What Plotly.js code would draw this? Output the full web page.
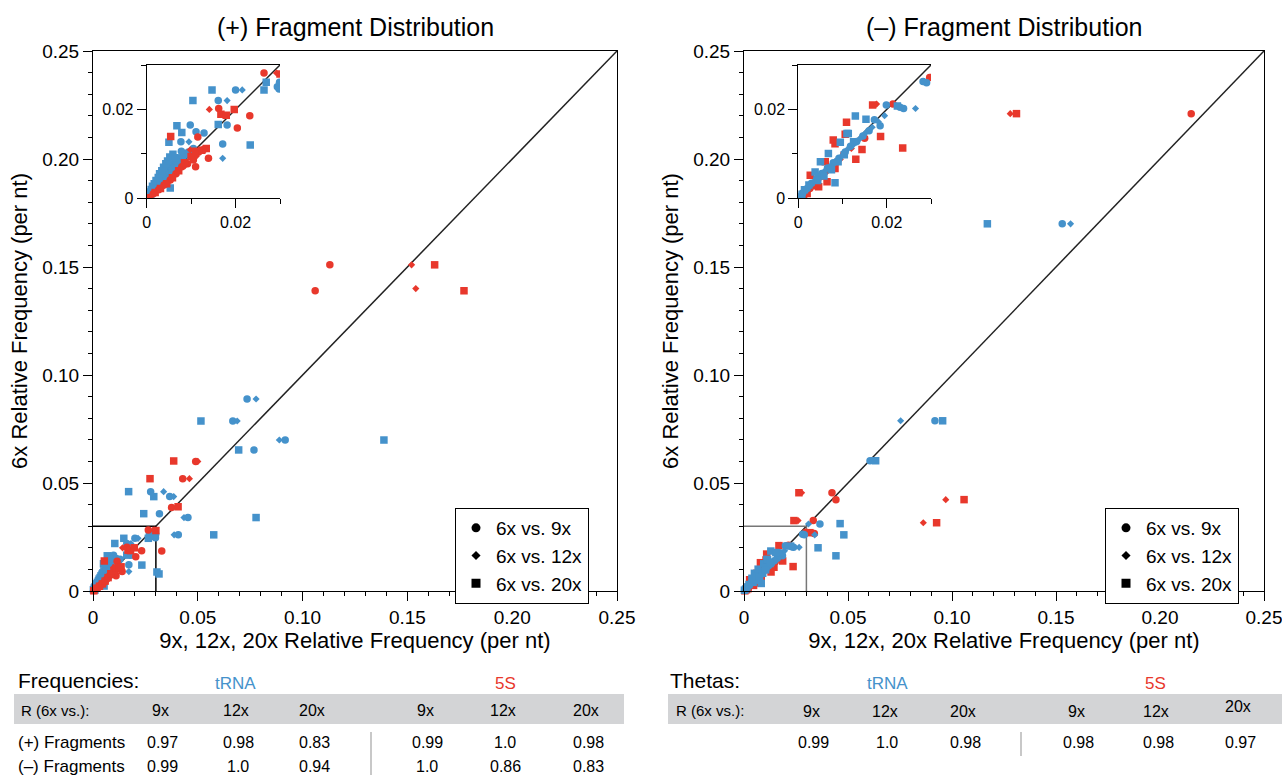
<!DOCTYPE html>
<html>
<head>
<meta charset="utf-8">
<script src="https://cdn.plot.ly/plotly-3.0.1.min.js"></script>
<style>html,body{margin:0;padding:0;background:#fff;}#chart{width:1282px;height:775px;}</style>
</head>
<body>
<div id="chart"></div>
<script>
// ---------------- DATA ----------------
// (+) fragments, tRNA (blue)
const plusTRNA9x_x = [0.0735,0.0667,0.0917,0.0768,0.0275,0.0366,0.0317,0.0453,0.0407,0.0294,0.0299,0.0298,0.0200,0.0161,0.0181,0.0098,0.0111,0.0129,0.0077,0.0171,
  0.0003,0.0008,0.0012,0.0016,0.0020,0.0025,0.0028,0.0033,0.0036,0.0040,0.0044,0.0048,0.0052,0.0057,0.0061,0.0066,0.0070,0.0075,0.0081,0.0088,0.0094,0.0105,0.0078,0.0024,0.0050];
const plusTRNA9x_y = [0.0889,0.0787,0.0699,0.0653,0.0460,0.0437,0.0358,0.0340,0.0260,0.0251,0.0261,0.0246,0.0244,0.0220,0.0165,0.0165,0.0150,0.0147,0.0127,0.0122,
  0.0004,0.0012,0.0018,0.0022,0.0030,0.0033,0.0041,0.0045,0.0052,0.0049,0.0060,0.0063,0.0071,0.0069,0.0079,0.0082,0.0090,0.0086,0.0096,0.0101,0.0104,0.0112,0.0106,0.0021,0.0043];
const plusTRNA12x_x = [0.0778,0.0688,0.0889,0.0337,0.0385,0.0434,0.0387,0.0215,0.0181,0.0095,0.0171,
  0.0005,0.0011,0.0018,0.0023,0.0030,0.0035,0.0042,0.0049,0.0055,0.0062,0.0068,0.0073,0.0083,0.0090,0.0098,0.0038];
const plusTRNA12x_y = [0.0889,0.0787,0.0699,0.0460,0.0437,0.0340,0.0260,0.0244,0.0220,0.0127,0.0090,
  0.0007,0.0015,0.0025,0.0031,0.0038,0.0041,0.0055,0.0058,0.0066,0.0073,0.0078,0.0083,0.0091,0.0097,0.0108,0.0034];
const plusTRNA20x_x = [0.0515,0.0695,0.1388,0.0778,0.0576,0.0290,0.0170,0.0242,0.0264,0.0269,0.0147,0.0104,0.0161,0.0068,0.0050,0.0233,0.0305,0.0315,0.0079,
  0.0002,0.0006,0.0010,0.0013,0.0017,0.0021,0.0026,0.0029,0.0034,0.0038,0.0043,0.0047,0.0052,0.0059,0.0064,0.0031,0.0045,0.0053,0.0058,0.0069,0.0009];
const plusTRNA20x_y = [0.0787,0.0653,0.0699,0.0340,0.0260,0.0437,0.0460,0.0358,0.0244,0.0261,0.0244,0.0220,0.0166,0.0163,0.0126,0.0120,0.0088,0.0079,0.0148,
  0.0006,0.0014,0.0020,0.0027,0.0033,0.0040,0.0047,0.0055,0.0062,0.0070,0.0078,0.0084,0.0093,0.0099,0.0091,0.0029,0.0040,0.0023,0.0056,0.0067,0.0004];
// (+) fragments, 5S (red)
const plus5S9x_x = [0.106,0.113,0.0490,0.0428,0.0375,0.0264,0.0328,0.0204,0.0162,0.0232,0.0115,0.0139,0.0110,
  0.0006,0.0015,0.0027,0.0039,0.0053,0.0066,0.0079,0.0092,0.0105,0.0117,0.0128];
const plus5S9x_y = [0.139,0.151,0.0600,0.0520,0.0387,0.0282,0.0185,0.0158,0.0202,0.0186,0.0138,0.0090,0.0071,
  0.0002,0.0010,0.0019,0.0030,0.0041,0.0055,0.0071,0.0078,0.0086,0.0104,0.0110];
const plus5S12x_x = [0.152,0.154,0.0500,0.0460,0.0141,0.0292,
  0.0010,0.0022,0.0034,0.0047,0.0060,0.0086,0.0112,0.0098];
const plus5S12x_y = [0.151,0.140,0.0600,0.0520,0.0200,0.0282,
  0.0005,0.0016,0.0024,0.0036,0.0050,0.0073,0.0095,0.0109];
const plus5S20x_x = [0.163,0.177,0.0385,0.0272,0.0406,0.0300,0.0167,0.0179,0.0197,0.0054,
  0.0004,0.0019,0.0031,0.0045,0.0058,0.0072,0.0085,0.0100,0.0110,0.0124,0.0134];
const plus5S20x_y = [0.151,0.139,0.0602,0.0520,0.0390,0.0280,0.0189,0.0187,0.0200,0.0139,
  0.0001,0.0013,0.0022,0.0033,0.0046,0.0062,0.0080,0.0094,0.0106,0.0108,0.0112];

// (-) fragments, tRNA (blue)
const minusTRNA9x_x = [0.153,0.0918,0.0606,0.0365,0.0290,0.0230,
  0.0003,0.0010,0.0020,0.0030,0.0042,0.0053,0.0066,0.0079,0.0092,0.0106,0.0118,0.0132,0.0146,0.0160,0.0185,0.0172,0.0199,0.0238,0.0282];
const minusTRNA9x_y = [0.170,0.0788,0.0603,0.0310,0.0260,0.0205,
  0.0003,0.0012,0.0022,0.0034,0.0045,0.0056,0.0068,0.0080,0.0090,0.0104,0.0117,0.0128,0.0140,0.0152,0.0163,0.0177,0.0210,0.0202,0.0263];
const minusTRNA12x_x = [0.157,0.0753,0.0340,0.0310,
  0.0006,0.0015,0.0025,0.0036,0.0048,0.0060,0.0073,0.0086,0.0099,0.0112,0.0125,0.0139,0.0153,0.0167,0.0181,0.0265,0.0195];
const minusTRNA12x_y = [0.170,0.0788,0.0260,0.0310,
  0.0006,0.0016,0.0027,0.0039,0.0050,0.0062,0.0073,0.0085,0.0096,0.0111,0.0121,0.0134,0.0148,0.0160,0.0172,0.0202,0.0186];
const minusTRNA20x_x = [0.117,0.0955,0.0633,0.0462,0.0480,0.0356,0.0442,
  0.0002,0.0008,0.0014,0.0024,0.0038,0.0050,0.0068,0.0083,0.0095,0.0110,0.0113,0.0125,0.0129,0.0153,0.0224,0.0044,0.0058,0.0075,0.0090,0.0104];
const minusTRNA20x_y = [0.170,0.0788,0.0603,0.0312,0.0260,0.0200,0.0163,
  0.0004,0.0009,0.0019,0.0030,0.0059,0.0082,0.0101,0.0035,0.0126,0.0146,0.0146,0.0127,0.0185,0.0178,0.0208,0.0040,0.0050,0.0064,0.0082,0.0098];
// (-) fragments, 5S (red)
const minus5S9x_x = [0.215,0.0423,0.0442,0.0333,0.0338,
  0.0005,0.0014,0.0026,0.0040,0.0055,0.0070,0.0088,0.0103,0.0214,0.0297,0.0150];
const minus5S9x_y = [0.221,0.0455,0.0423,0.0326,0.0266,
  0.0003,0.0010,0.0022,0.0036,0.0050,0.0066,0.0082,0.0099,0.0212,0.0272,0.0135];
const minus5S12x_x = [0.128,0.0277,0.0970,0.0862,0.0260,
  0.0009,0.0020,0.0033,0.0048,0.0063,0.0095,0.0177,0.0120];
const minus5S12x_y = [0.221,0.0455,0.0423,0.0316,0.0326,
  0.0006,0.0016,0.0029,0.0044,0.0058,0.0088,0.0212,0.0112];
const minus5S20x_x = [0.131,0.0264,0.1058,0.0926,0.0240,0.0317,0.0168,0.0186,0.0236,
  0.0004,0.0012,0.0027,0.0046,0.0061,0.0065,0.0079,0.0083,0.0083,0.0106,0.0109,0.0130,0.0144,0.0020,0.0035];
const minus5S20x_y = [0.221,0.0455,0.0423,0.0316,0.0326,0.0270,0.0210,0.0139,0.0113,
  0.0001,0.0006,0.0052,0.0026,0.0082,0.0037,0.0131,0.0123,0.0067,0.0144,0.0171,0.0088,0.0110,0.0011,0.0028];

// axis ticks
const mainTickVals = [0, 0.05, 0.10, 0.15, 0.20, 0.25];
const mainTickText = ['0', '0.05', '0.10', '0.15', '0.20', '0.25'];
const insetTickVals = [0, 0.02];
const insetTickText = ['0', '0.02'];
const insetMax = 0.03;

// legend labels
const legendLabels = ['6x vs. 9x', '6x vs. 12x', '6x vs. 20x'];

// tables
const tableCols = ['9x', '12x', '20x'];
const freqRowLabels = ['(+) Fragments', '(\u2013) Fragments'];
const freqTRNA = [[0.97, 0.98, 0.83], [0.99, 1.0, 0.94]];
const freq5S = [[0.99, 1.0, 0.98], [1.0, 0.86, 0.83]];
const thetaTRNA = [0.99, 1.0, 0.98];
const theta5S = [0.98, 0.98, 0.97];

// ---------------- STYLE ----------------
const BLUE = '#4592cb';
const RED = '#e8382c';
const FONT = 'Liberation Sans, Arial, Helvetica, sans-serif';
const W = 1282, H = 775;
const px = v => v / W;
const py = v => 1 - v / H;
const symbols = ['circle', 'diamond', 'square'];
const sizes = [7.5, 5.5, 7.5];

const traces = [];
function addSeries(xs, ys, color, k, mainAx, insetAx) {
  traces.push({type: 'scatter', mode: 'markers', x: xs, y: ys, xaxis: mainAx[0], yaxis: mainAx[1],
    marker: {color: color, symbol: symbols[k], size: sizes[k], line: {width: 0}}, showlegend: false, cliponaxis: false, hoverinfo: 'x+y'});
  // inset: only the points inside the zoomed window
  const ix = [], iy = [];
  xs.forEach((v, i) => { if (v <= insetMax && ys[i] <= insetMax) { ix.push(v); iy.push(ys[i]); } });
  traces.push({type: 'scatter', mode: 'markers', x: ix, y: iy, xaxis: insetAx[0], yaxis: insetAx[1],
    marker: {color: color, symbol: symbols[k], size: sizes[k], line: {width: 0}}, showlegend: false, cliponaxis: true, hoverinfo: 'x+y'});
}
const L = [['x', 'y'], ['x2', 'y2']];
const R = [['x3', 'y3'], ['x4', 'y4']];
// left: blue below red
addSeries(plusTRNA9x_x, plusTRNA9x_y, BLUE, 0, L[0], L[1]);
addSeries(plusTRNA12x_x, plusTRNA12x_y, BLUE, 1, L[0], L[1]);
addSeries(plusTRNA20x_x, plusTRNA20x_y, BLUE, 2, L[0], L[1]);
addSeries(plus5S9x_x, plus5S9x_y, RED, 0, L[0], L[1]);
addSeries(plus5S12x_x, plus5S12x_y, RED, 1, L[0], L[1]);
addSeries(plus5S20x_x, plus5S20x_y, RED, 2, L[0], L[1]);
// right: red below blue
addSeries(minus5S9x_x, minus5S9x_y, RED, 0, R[0], R[1]);
addSeries(minus5S12x_x, minus5S12x_y, RED, 1, R[0], R[1]);
addSeries(minus5S20x_x, minus5S20x_y, RED, 2, R[0], R[1]);
addSeries(minusTRNA9x_x, minusTRNA9x_y, BLUE, 0, R[0], R[1]);
addSeries(minusTRNA12x_x, minusTRNA12x_y, BLUE, 1, R[0], R[1]);
addSeries(minusTRNA20x_x, minusTRNA20x_y, BLUE, 2, R[0], R[1]);

// legend dummy traces
const legSizes = [9, 7, 9];
legendLabels.forEach((lab, k) => {
  traces.push({type: 'scatter', mode: 'markers', x: [null], y: [null], xaxis: 'x', yaxis: 'y', name: lab, legend: 'legend',
    marker: {color: 'black', symbol: symbols[k], size: legSizes[k]}, showlegend: true});
  traces.push({type: 'scatter', mode: 'markers', x: [null], y: [null], xaxis: 'x3', yaxis: 'y3', name: lab, legend: 'legend2',
    marker: {color: 'black', symbol: symbols[k], size: legSizes[k]}, showlegend: true});
});

function mainX(dom, anchor, title) {
  return {domain: dom, anchor: anchor, range: [0, 0.25], tickmode: 'array', tickvals: mainTickVals, ticktext: mainTickText,
    ticks: 'outside', ticklen: 9, tickwidth: 1, tickcolor: '#000', ticklabeloverflow: 'allow',
    minor: {tickmode: 'linear', tick0: 0, dtick: 0.01, ticks: 'outside', ticklen: 4, tickcolor: '#000', tickwidth: 1, showgrid: false},
    showline: true, linecolor: '#000', linewidth: 1, mirror: true, showgrid: false, zeroline: false,
    tickfont: {size: 19, color: '#000', family: FONT},
    title: {text: title, font: {size: 22, color: '#000', family: FONT}, standoff: 5}, automargin: false, fixedrange: true};
}
function insetAxis(dom, anchor, mirror) {
  return {domain: dom, anchor: anchor, range: [0, insetMax], tickmode: 'array', tickvals: insetTickVals, ticktext: insetTickText,
    ticks: 'outside', ticklen: 9, tickwidth: 1, tickcolor: '#000',
    minor: {tickmode: 'linear', tick0: 0, dtick: 0.01, ticks: 'outside', ticklen: 5, tickcolor: '#000', tickwidth: 1, showgrid: false},
    showline: true, linecolor: '#000', linewidth: 1, mirror: mirror, showgrid: false, zeroline: false,
    tickfont: {size: 16, color: '#000', family: FONT}, automargin: false, fixedrange: true};
}

const yDom = [py(591), py(51)];
const insetYDom = [py(198.3), py(65)];
const legendStyle = {xanchor: 'left', yanchor: 'top', bordercolor: '#000', borderwidth: 1, bgcolor: '#fff',
  font: {size: 19, color: '#000', family: FONT}, itemsizing: 'trace', tracegroupgap: 0, itemwidth: 30};
const layout = {
  width: W, height: H, margin: {l: 0, r: 0, t: 0, b: 0},
  paper_bgcolor: '#fff', plot_bgcolor: 'rgba(0,0,0,0)',
  font: {family: FONT, color: '#000'},
  xaxis: mainX([px(93), px(617)], 'y', '9x, 12x, 20x Relative Frequency (per nt)'),
  yaxis: Object.assign(mainX(yDom, 'x', '6x Relative Frequency (per nt)'), {domain: yDom}),
  xaxis3: mainX([px(744), px(1264)], 'y3', '9x, 12x, 20x Relative Frequency (per nt)'),
  yaxis3: Object.assign(mainX(yDom, 'x3', '6x Relative Frequency (per nt)'), {domain: yDom}),
  xaxis2: insetAxis([px(146.7), px(280)], 'y2', true),
  yaxis2: insetAxis(insetYDom, 'x2', false),
  xaxis4: insetAxis([px(798.3), px(931)], 'y4', true),
  yaxis4: insetAxis(insetYDom, 'x4', false),
  legend: Object.assign({x: px(455), y: py(508)}, legendStyle),
  legend2: Object.assign({x: px(1105), y: py(508)}, legendStyle),
  shapes: [], annotations: [], showlegend: true
};
layout.yaxis.title.standoff = 8;
layout.yaxis3.title.standoff = 8;

// diagonal & zoom-box reference lines
[['x', 'y', '#000'], ['x3', 'y3', '#777']].forEach(([xa, ya, boxCol]) => {
  layout.shapes.push({type: 'line', xref: xa, yref: ya, x0: 0, y0: 0, x1: 0.25, y1: 0.25, line: {color: '#222', width: 1.5}, layer: 'below'});
  layout.shapes.push({type: 'line', xref: xa, yref: ya, x0: 0, y0: insetMax, x1: insetMax, y1: insetMax, line: {color: boxCol, width: 1.5}, layer: 'below'});
  layout.shapes.push({type: 'line', xref: xa, yref: ya, x0: insetMax, y0: insetMax, x1: insetMax, y1: 0, line: {color: boxCol, width: 1.5}, layer: 'below'});
});
[['x2', 'y2'], ['x4', 'y4']].forEach(([xa, ya]) => {
  layout.shapes.push({type: 'line', xref: xa, yref: ya, x0: 0, y0: 0, x1: insetMax, y1: insetMax, line: {color: '#222', width: 1.5}, layer: 'below'});
});

// titles
function ann(text, x, y, opts) {
  layout.annotations.push(Object.assign({text: text, x: px(x), y: py(y), xref: 'paper', yref: 'paper', showarrow: false,
    xanchor: 'center', yanchor: 'middle', font: {size: 16, color: '#000', family: FONT}}, opts || {}));
}
ann('(+) Fragment Distribution', 355, 27, {font: {size: 25, color: '#000', family: FONT}});
ann('(\u2013) Fragment Distribution', 1004, 27, {font: {size: 25, color: '#000', family: FONT}});

// tables
const fmt = v => (v === 1 ? '1.0' : v.toFixed(2));
// left table
layout.shapes.push({type: 'rect', xref: 'paper', yref: 'paper', x0: px(14), x1: px(624), y0: py(724), y1: py(694), fillcolor: '#d3d4d6', line: {width: 0}, layer: 'below'});
layout.shapes.push({type: 'line', xref: 'paper', yref: 'paper', x0: px(371), x1: px(371), y0: py(775), y1: py(732), line: {color: '#c8c8c8', width: 2}});
ann('Frequencies:', 16, 680, {xanchor: 'left', font: {size: 21, color: '#000', family: FONT}});
ann('tRNA', 235, 683, {font: {size: 17, color: BLUE, family: FONT}});
ann('5S', 505, 683, {font: {size: 17, color: RED, family: FONT}});
ann('R (6x vs.):', 19, 710, {xanchor: 'left', font: {size: 15, color: '#000', family: FONT}});
const leftColX = [160, 236, 312, 425, 503, 586];
tableCols.concat(tableCols).forEach((c, i) => ann(c, leftColX[i], 710));
const rowY = [742, 766];
freqRowLabels.forEach((lab, r) => {
  ann(lab, 16, rowY[r], {xanchor: 'left', font: {size: 17, color: '#000', family: FONT}});
  freqTRNA[r].concat(freq5S[r]).forEach((v, i) => ann(fmt(v), leftColX[i] + 2, rowY[r]));
});
// right table
layout.shapes.push({type: 'rect', xref: 'paper', yref: 'paper', x0: px(668), x1: px(1282), y0: py(724), y1: py(694), fillcolor: '#d3d4d6', line: {width: 0}, layer: 'below'});
layout.shapes.push({type: 'line', xref: 'paper', yref: 'paper', x0: px(1021), x1: px(1021), y0: py(756), y1: py(732), line: {color: '#c8c8c8', width: 2}});
ann('Thetas:', 668, 680, {xanchor: 'left', font: {size: 21, color: '#000', family: FONT}});
ann('tRNA', 887, 683, {font: {size: 17, color: BLUE, family: FONT}});
ann('5S', 1155, 683, {font: {size: 17, color: RED, family: FONT}});
ann('R (6x vs.):', 674, 710, {xanchor: 'left', font: {size: 15, color: '#000', family: FONT}});
const rightColX = [811, 885, 963, 1076, 1156, 1238];
const rightHeadY = [711, 711, 711, 711, 711, 706];
tableCols.concat(tableCols).forEach((c, i) => ann(c, rightColX[i], rightHeadY[i]));
thetaTRNA.concat(theta5S).forEach((v, i) => ann(fmt(v), rightColX[i] + 2, 742));

Plotly.newPlot('chart', traces, layout, {displayModeBar: false, staticPlot: true});
</script>
</body>
</html>
